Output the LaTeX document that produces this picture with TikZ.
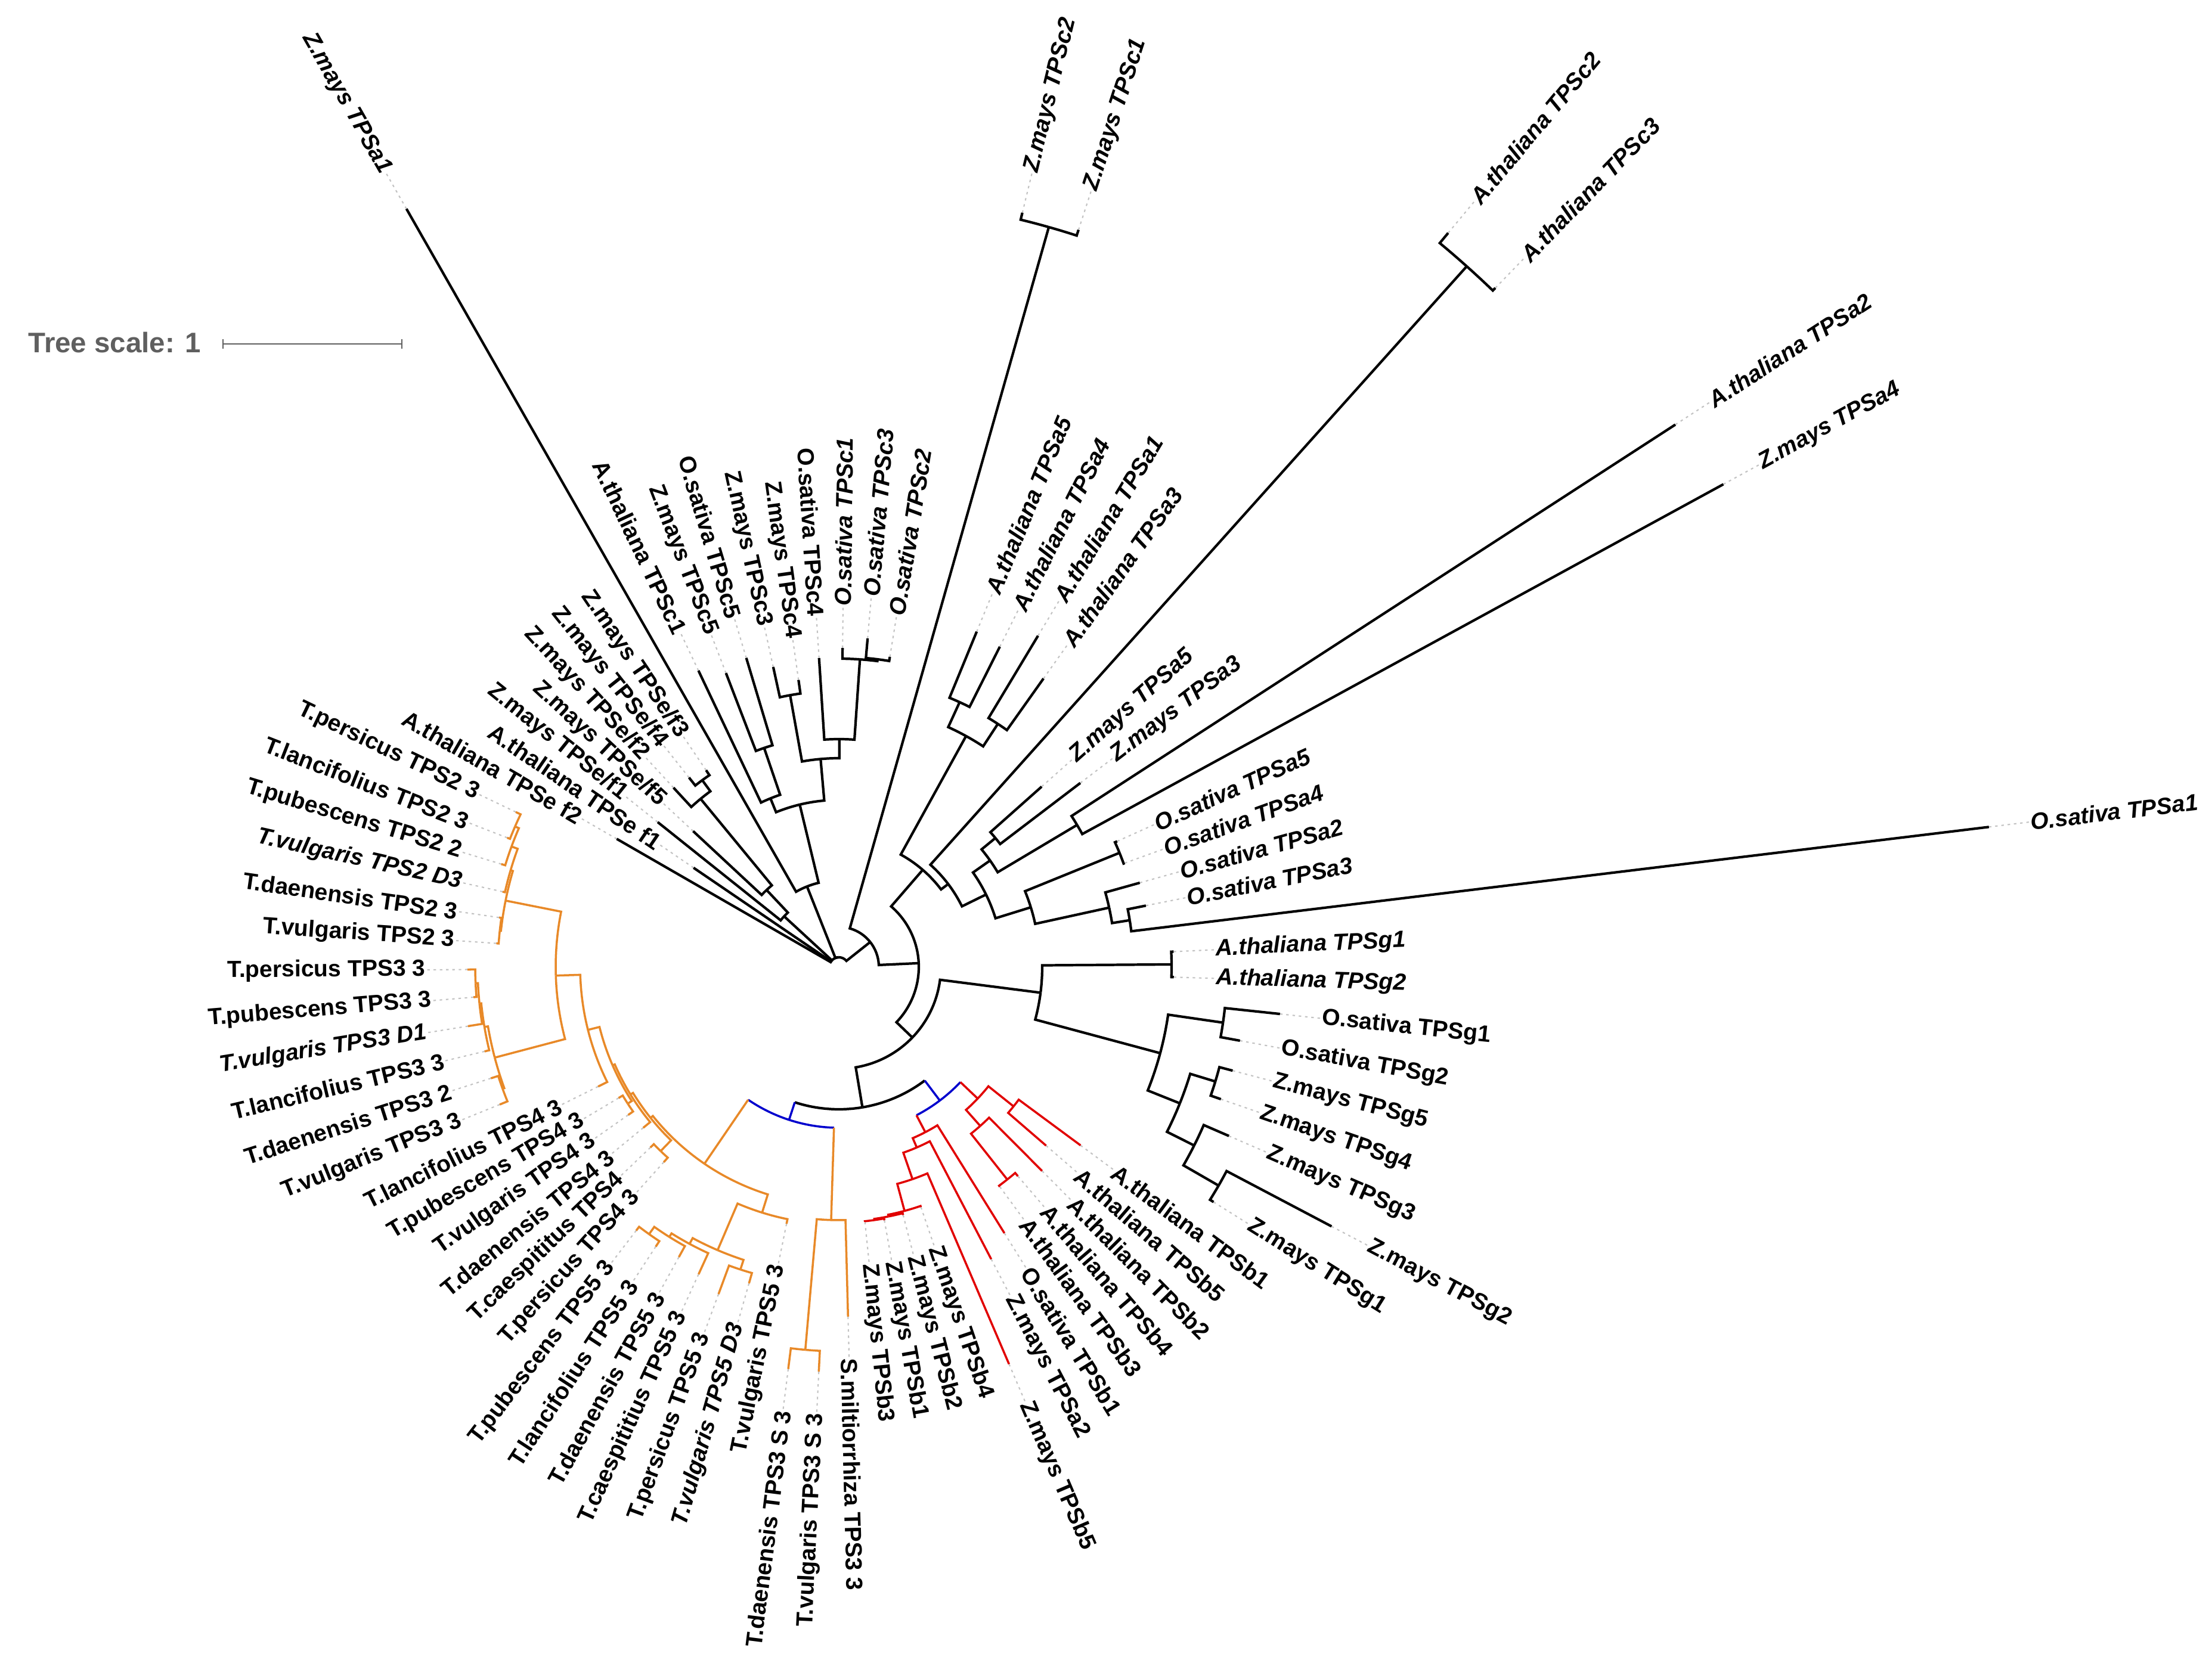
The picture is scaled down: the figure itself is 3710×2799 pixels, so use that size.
\documentclass[tikz,border=0pt]{standalone}
\usepackage{fontspec}
\setmainfont{Liberation Sans}

\definecolor{clOrange}{RGB}{232,137,40}
\definecolor{clRed}{RGB}{225,0,0}
\definecolor{clBlue}{RGB}{0,0,205}
\definecolor{clLead}{RGB}{195,195,195}
\definecolor{clScale}{RGB}{95,95,95}

\tikzset{
  branch/.style={line width=1.2pt},
  ora/.style={draw=clOrange, line width=1pt},
  redb/.style={draw=clRed, line width=1pt},
  blu/.style={draw=clBlue, line width=1pt},
  leader/.style={draw=clLead, line width=0.6pt, dash pattern=on 1.2pt off 1.8pt},
  lbl/.style={font=\fontsize{11.1}{13}\selectfont\bfseries, inner sep=0pt},
  it/.style={font=\fontsize{11.1}{13}\selectfont\bfseries\itshape},
}

% node store: angle and radius (px from the centre)
\newcommand\keepnode[3]{%
  \expandafter\xdef\csname tnA#1\endcsname{#2}%
  \expandafter\xdef\csname tnR#1\endcsname{#3}%
  \coordinate (#1) at (#2:#3);}
% leaf: [label style]{name}{index}{tip radius}{text}
\newcommand\leafat[5][]{%
  \pgfmathsetmacro\la{2.6+4.337*#3-(#3>34)*360}%
  \keepnode{#2}{\la}{#4}%
  \pgfmathsetmacro\lr{#4+70}%
  \pgfmathtruncatemacro\rs{cos(\la)>0}%
  \draw[leader] (#2) -- (\la:\lr);%
  \ifnum\rs=1
    \node[lbl,#1,anchor=west,rotate=\la] (t-#2) at (\la:\lr) {#5};%
  \else
    \node[lbl,#1,anchor=east,rotate=\la+180] (t-#2) at (\la:\lr) {#5};%
  \fi}
% inner node halfway between its outer children
\newcommand\joint[4]{%
  \pgfmathsetmacro\ja{(\csname tnA#2\endcsname+\csname tnA#3\endcsname)/2}%
  \keepnode{#1}{\ja}{#4}}
% branch: arc on the parent radius, then out to the child
\newcommand\twig[3][]{%
  \edef\pa{\csname tnA#2\endcsname}\edef\pr{\csname tnR#2\endcsname}%
  \edef\ca{\csname tnA#3\endcsname}%
  \draw[branch,#1] (\pa:\pr) arc[start angle=\pa, end angle=\ca, radius=\pr] -- (#3);}
% same, arc and stem in two colours
\newcommand\twigx[4]{%
  \edef\pa{\csname tnA#3\endcsname}\edef\pr{\csname tnR#3\endcsname}%
  \edef\ca{\csname tnA#4\endcsname}%
  \draw[branch,#1] (\pa:\pr) arc[start angle=\pa, end angle=\ca, radius=\pr];
  \draw[branch,#2] (\ca:\pr) -- (#4);}

\begin{document}
\begin{tikzpicture}[x=0.01cm, y=0.01cm]
  \useasboundingbox (0,0) rectangle (3710,2799);

  % tree scale
  \node[font=\fontsize{13.5}{16}\selectfont\bfseries, text=clScale, anchor=west, inner sep=0pt] (scale) at (47,2224) {Tree scale: 1};
  \draw[clScale, line width=0.6pt] (374,2214) -- (374,2230) (374,2222) -- (674,2222) (674,2214) -- (674,2230);

  \begin{scope}[shift={(1407,1177)}]
  % leaves, counter-clockwise from A.thaliana TPSg1
  \leafat[it]{Ag1}{0}{562}{A.thaliana TPSg1}
  \leafat[it]{Oa1}{1}{1943}{O.sativa TPSa1}
  \leafat[it]{Oa3}{2}{525}{O.sativa TPSa3}
  \leafat[it]{Oa2}{3}{524}{O.sativa TPSa2}
  \leafat[it]{Oa4}{4}{510}{O.sativa TPSa4}
  \leafat[it]{Oa5}{5}{512}{O.sativa TPSa5}
  \leafat[it]{Za4}{6}{1690}{Z.mays TPSa4}
  \leafat[it]{Aa2}{7}{1672}{A.thaliana TPSa2}
  \leafat[it]{Za3}{8}{509}{Z.mays TPSa3}
  \leafat[it]{Za5}{9}{455}{Z.mays TPSa5}
  \leafat[it]{Ac3}{10}{1584}{A.thaliana TPSc3}
  \leafat[it]{Ac2}{11}{1600}{A.thaliana TPSc2}
  \leafat[it]{Aa3}{12}{593}{A.thaliana TPSa3}
  \leafat[it]{Aa1}{13}{648}{A.thaliana TPSa1}
  \leafat[it]{Aa4}{14}{601}{A.thaliana TPSa4}
  \leafat[it]{Aa5}{15}{608}{A.thaliana TPSa5}
  \leafat[it]{Zc1}{16}{1300}{Z.mays TPSc1}
  \leafat[it]{Zc2}{17}{1302}{Z.mays TPSc2}
  \leafat[it]{Oc2}{18}{527}{O.sativa TPSc2}
  \leafat[it]{Oc3}{19}{553}{O.sativa TPSc3}
  \leafat[it]{Oc1}{20}{535}{O.sativa TPSc1}
  \leafat{Oc4}{21}{519}{O.sativa TPSc4}
  \leafat{Zc4}{22}{486}{Z.mays TPSc4}
  \leafat{Zc3}{23}{515}{Z.mays TPSc3}
  \leafat{Oc5}{24}{541}{O.sativa TPSc5}
  \leafat{Zc5}{25}{528}{Z.mays TPSc5}
  \leafat{Ac1}{26}{550}{A.thaliana TPSc1}
  \leafat[it]{Za1}{27}{1464}{Z.mays TPSa1}
  \leafat{Ze3}{28}{398}{Z.mays TPSe/f3}
  \leafat{Ze4}{29}{405}{Z.mays TPSe/f4}
  \leafat{Ze2}{30}{409}{Z.mays TPSe/f2}
  \leafat{Ze5}{31}{334}{Z.mays TPSe/f5}
  \leafat{Ze1}{32}{389}{Z.mays TPSe/f1}
  \leafat{Ae1}{33}{295}{A.thaliana TPSe f1}
  \leafat{Ae2}{34}{430}{A.thaliana TPSe f2}
  \leafat{Tpe2}{35}{601}{T.persicus TPS2 3}
  \leafat{Tla2}{36}{597}{T.lancifolius TPS2 3}
  \leafat{Tpu2}{37}{592}{T.pubescens TPS2 2}
  \leafat[it]{Tvd2}{38}{578}{T.vulgaris TPS2 D3}
  \leafat{Tda2}{39}{576}{T.daenensis TPS2 3}
  \leafat{Tvu2}{40}{576}{T.vulgaris TPS2 3}
  \leafat{Tpe3}{41}{623}{T.persicus TPS3 3}
  \leafat{Tpu3}{42}{615}{T.pubescens TPS3 3}
  \leafat[it]{Tvd3}{43}{630}{T.vulgaris TPS3 D1}
  \leafat{Tla3}{44}{611}{T.lancifolius TPS3 3}
  \leafat{Tda3}{45}{613}{T.daenensis TPS3 2}
  \leafat{Tvu3}{46}{614}{T.vulgaris TPS3 3}
  \leafat{Tla4}{47}{451}{T.lancifolius TPS4 3}
  \leafat{Tpu4}{48}{430}{T.pubescens TPS4 3}
  \leafat{Tvu4}{49}{432}{T.vulgaris TPS4 3}
  \leafat{Tda4}{50}{425}{T.daenensis TPS4 3}
  \leafat{Tca4}{51}{438}{T.caespititus TPS4}
  \leafat{Tpe4}{52}{440}{T.persicus TPS4 3}
  \leafat{Tpu5}{53}{558}{T.pubescens TPS5 3}
  \leafat{Tla5}{54}{561}{T.lancifolius TPS5 3}
  \leafat{Tda5}{55}{556}{T.daenensis TPS5 3}
  \leafat{Tca5}{56}{567}{T.caespititius TPS5 3}
  \leafat{Tpe5}{57}{585}{T.persicus TPS5 3}
  \leafat[it]{Tvd5}{58}{552}{T.vulgaris TPS5 D3}
  \leafat{Tvu5}{59}{440}{T.vulgaris TPS5 3}
  \leafat{TdaS}{60}{680}{T.daenensis TPS3 S 3}
  \leafat{TvuS}{61}{680}{T.vulgaris TPS3 S 3}
  \leafat{Smi}{62}{587}{S.miltiorrhiza TPS3 3}
  \leafat{Zb3}{63}{430}{Z.mays TPSb3}
  \leafat{Zb1}{64}{432}{Z.mays TPSb1}
  \leafat{Zb2}{65}{430}{Z.mays TPSb2}
  \leafat{Zb4}{66}{426}{Z.mays TPSb4}
  \leafat{Zb5}{67}{725}{Z.mays TPSb5}
  \leafat{Za2}{68}{553}{Z.mays TPSa2}
  \leafat{Ob1}{69}{526}{O.sativa TPSb1}
  \leafat{Ab3}{70}{457}{A.thaliana TPSb3}
  \leafat{Ab4}{71}{462}{A.thaliana TPSb4}
  \leafat{Ab2}{72}{483}{A.thaliana TPSb2}
  \leafat{Ab5}{73}{459}{A.thaliana TPSb5}
  \leafat{Ab1}{74}{504}{A.thaliana TPSb1}
  \leafat{Zg1}{75}{742}{Z.mays TPSg1}
  \leafat{Zg2}{76}{934}{Z.mays TPSg2}
  \leafat{Zg3}{77}{713}{Z.mays TPSg3}
  \leafat{Zg4}{78}{678}{Z.mays TPSg4}
  \leafat{Zg5}{79}{683}{Z.mays TPSg5}
  \leafat{Og2}{80}{684}{O.sativa TPSg2}
  \leafat{Og1}{81}{744}{O.sativa TPSg1}
  \leafat[it]{Ag2}{82}{562}{A.thaliana TPSg2}

  % inner nodes, children first
  \joint{ZC}{Zc1}{Zc2}{1290}
  \joint{nAc}{Ac3}{Ac2}{1578}
  \joint{Aa54}{Aa5}{Aa4}{488}
  \joint{Aa13}{Aa1}{Aa3}{487}
  \joint{Aa}{Aa54}{Aa13}{442}
  \joint{Za53}{Za5}{Za3}{340}
  \joint{AZa}{Aa2}{Za4}{465}
  \joint{R1}{Za53}{AZa}{310}
  \joint{Oa54}{Oa5}{Oa4}{508}
  \joint{R4}{Oa3}{Oa1}{494}
  \joint{R3}{Oa2}{R4}{464}
  \joint{R2}{Oa54}{R3}{337}
  \joint{Q}{R1}{R2}{275}
  \joint{Pb}{nAc}{Q}{230}
  \joint{P}{Aa}{Pb}{215}
  \joint{T8}{Oc3}{Oc2}{520}
  \joint{T7}{Oc1}{T8}{517}
  \joint{T6}{Oc4}{T7}{382}
  \joint{T5}{Zc3}{Zc4}{463}
  \joint{T3}{T5}{T6}{350}
  \joint{T4}{Zc5}{Oc5}{388}
  \joint{T2}{Ac1}{T4}{305}
  \joint{T1}{T2}{T3}{280}
  \joint{T0}{Za1}{T1}{145}
  \joint{eD}{Ze3}{Ze4}{388}
  \joint{eC}{Ze2}{eD}{365}
  \joint{eB}{Ze5}{eC}{177}
  \joint{eA}{Ze1}{eB}{125}
  \joint{E0}{Ae2}{eA}{16}
  \joint{Ag}{Ag1}{Ag2}{558}
  \joint{Og}{Og1}{Og2}{651}
  \joint{K}{Zg2}{Zg1}{735}
  \joint{J}{Zg3}{K}{667}
  \joint{Zg}{Zg5}{Zg4}{660}
  \joint{I}{Zg}{J}{616}
  \joint{H}{Og}{I}{558}
  \joint{G}{Ag}{H}{341}
  \joint{Rc}{Ab1}{Ab5}{375}
  \joint{Re}{Ab4}{Ab3}{455}
  \joint{Rd}{Ab2}{Re}{357}
  \joint{Rb}{Rc}{Rd}{321}
  \joint{Rk}{Zb1}{Zb3}{429}
  \joint{Rj}{Zb2}{Rk}{427}
  \joint{Ri}{Zb4}{Rj}{424}
  \joint{Rh}{Zb5}{Ri}{377}
  \joint{Rg}{Za2}{Rh}{330}
  \joint{Rf}{Ob1}{Rg}{313}
  \joint{B2}{Rf}{Rb}{281}
  \joint{S2}{TdaS}{TvuS}{645}
  \joint{S}{Smi}{S2}{425}
  \joint{O7}{Tla5}{Tpu5}{550}
  \joint{O6}{Tda5}{O7}{535}
  \joint{O5}{Tca5}{O6}{528}
  \joint{O4}{Tvd5}{Tpe5}{534}
  \joint{O3}{O4}{O5}{517}
  \joint{O2}{Tvu5}{O3}{432}
  \joint{N2d}{Tla2}{Tpe2}{592}
  \joint{N2c}{Tpu2}{N2d}{585}
  \joint{N2b}{Tvd2}{N2c}{574}
  \joint{P23}{Tvu2}{Tda2}{572}
  \joint{N2}{P23}{N2b}{570}
  \joint{N3d}{Tpu3}{Tpe3}{610}
  \joint{N3c}{Tvd3}{N3d}{606}
  \joint{N3a}{Tla3}{N3c}{603}
  \joint{N3b}{Tvu3}{Tda3}{600}
  \joint{N3}{N3b}{N3a}{597}
  \joint{N23}{N3}{N2}{475}
  \joint{N234}{N23}{Tla4}{434}
  \joint{L4}{Tvu4}{Tpu4}{422}
  \joint{N5}{L4}{N234}{414}
  \joint{L2}{Tda4}{N5}{410}
  \joint{La}{Tpe4}{Tca4}{430}
  \joint{L1}{La}{L2}{405}
  \joint{O1}{O2}{L1}{400}
  \joint{B1}{O1}{S}{270}
  \joint{N239}{B1}{B2}{239}
  \joint{N171}{G}{N239}{171}
  \joint{Y}{P}{N171}{134}
  \joint{X}{ZC}{Y}{67}
  \joint{Rt}{E0}{X}{16}

  % black part
  \foreach \p/\c in {Rt/E0, Rt/T0, Rt/X, E0/Ae2, E0/Ae1, E0/eA,
      eA/Ze1, eA/eB, eB/Ze5, eB/eC, eC/Ze2, eC/eD, eD/Ze3, eD/Ze4,
      T0/Za1, T0/T1, T1/T2, T1/T3, T2/Ac1, T2/T4, T4/Zc5, T4/Oc5,
      T3/T5, T3/T6, T5/Zc3, T5/Zc4, T6/Oc4, T6/T7, T7/Oc1, T7/T8, T8/Oc3, T8/Oc2,
      X/ZC, X/Y, ZC/Zc1, ZC/Zc2, Y/P, Y/N171,
      P/Aa, P/Pb, Aa/Aa54, Aa/Aa13, Aa54/Aa5, Aa54/Aa4, Aa13/Aa1, Aa13/Aa3,
      Pb/nAc, Pb/Q, nAc/Ac2, nAc/Ac3, Q/R1, Q/R2, R1/Za53, R1/AZa,
      Za53/Za5, Za53/Za3, AZa/Aa2, AZa/Za4, R2/Oa54, R2/R3, Oa54/Oa5, Oa54/Oa4,
      R3/Oa2, R3/R4, R4/Oa3, R4/Oa1, N171/G, N171/N239,
      G/Ag, G/H, Ag/Ag1, Ag/Ag2, H/Og, H/I, Og/Og1, Og/Og2,
      I/Zg, I/J, Zg/Zg5, Zg/Zg4, J/Zg3, J/K, K/Zg2, K/Zg1}
    \twig{\p}{\c};

  % blue links
  \twigx{}{blu}{N239}{B1}
  \twigx{}{blu}{N239}{B2}
  \twigx{blu}{ora}{B1}{O1}
  \twigx{blu}{ora}{B1}{S}
  \twigx{blu}{redb}{B2}{Rf}
  \twigx{blu}{redb}{B2}{Rb}

  % red clade
  \foreach \p/\c in {Rf/Ob1, Rf/Rg, Rg/Za2, Rg/Rh, Rh/Zb5, Rh/Ri, Ri/Zb4, Ri/Rj,
      Rj/Zb2, Rj/Rk, Rk/Zb1, Rk/Zb3, Rb/Rc, Rb/Rd, Rc/Ab1, Rc/Ab5,
      Rd/Ab2, Rd/Re, Re/Ab4, Re/Ab3}
    \twig[redb]{\p}{\c};

  % orange clade
  \foreach \p/\c in {S/Smi, S/S2, S2/TdaS, S2/TvuS,
      O1/O2, O1/L1, O2/Tvu5, O2/O3, O3/O4, O3/O5, O4/Tvd5, O4/Tpe5,
      O5/Tca5, O5/O6, O6/Tda5, O6/O7, O7/Tla5, O7/Tpu5,
      L1/La, L1/L2, La/Tpe4, La/Tca4, L2/Tda4, L2/N5, N5/L4, N5/N234,
      L4/Tvu4, L4/Tpu4, N234/N23, N234/Tla4,
      N23/N3, N23/N2, N3/N3b, N3/N3a, N3b/Tvu3, N3b/Tda3, N3a/Tla3, N3a/N3c,
      N3c/Tvd3, N3c/N3d, N3d/Tpu3, N3d/Tpe3,
      N2/P23, N2/N2b, P23/Tvu2, P23/Tda2, N2b/Tvd2, N2b/N2c, N2c/Tpu2, N2c/N2d,
      N2d/Tla2, N2d/Tpe2}
    \twig[ora]{\p}{\c};
  \end{scope}
\end{tikzpicture}
\end{document}
